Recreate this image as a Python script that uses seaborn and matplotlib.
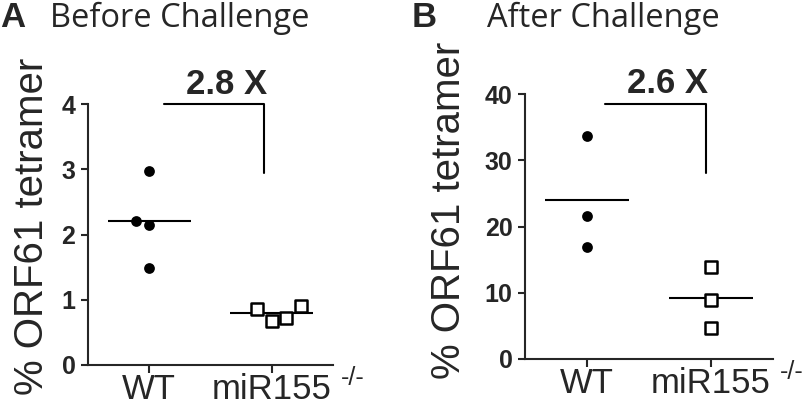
import numpy as np
import pandas as pd
import matplotlib
matplotlib.use("Agg")
import matplotlib.pyplot as plt
import seaborn as sns

# values (% ORF61 tetramer)
groups = ["WT", "miR155"]
before_wt = [2.97, 2.21, 2.15, 1.49]
before_ko = [0.86, 0.68, 0.72, 0.90]
after_wt = [33.6, 21.6, 16.9]
after_ko = [13.9, 8.9, 4.7]

# small horizontal spread of the points, as in the original scatter
before_wt_dx = [0.0, -0.11, 0.0, 0.0]
before_ko_dx = [-0.12, 0.0, 0.12, 0.24]
after_wt_dx = [0.0, 0.0, 0.0]
after_ko_dx = [0.0, 0.0, 0.0]

fold_labels = ["2.8 X", "2.6 X"]
panel_letters = ["A", "B"]
panel_titles = ["Before Challenge", "After Challenge"]

sns.set_style("ticks")
plt.rcParams["font.family"] = ["Liberation Sans", "DejaVu Sans"]
plt.rcParams["axes.linewidth"] = 1.5
plt.rcParams["xtick.major.width"] = 1.5
plt.rcParams["ytick.major.width"] = 1.5


def make_df(wt, ko, wt_dx, ko_dx):
    df = pd.DataFrame({
        "group": [groups[0]] * len(wt) + [groups[1]] * len(ko),
        "value": wt + ko,
        "dx": wt_dx + ko_dx,
    })
    df["pos"] = df["group"].map({g: i for i, g in enumerate(groups)}) + df["dx"]
    return df


def draw_panel(ax, df, ymax, yticks, bracket, fold_text):
    wt = df[df["group"] == groups[0]]
    ko = df[df["group"] == groups[1]]
    sns.scatterplot(data=wt, x="pos", y="value", ax=ax, marker="o", s=60,
                    color="black", edgecolor="black", linewidth=0, zorder=3)
    sns.scatterplot(data=ko, x="pos", y="value", ax=ax, marker="s", s=66,
                    facecolor="white", edgecolor="black", linewidth=1.8, zorder=3)
    # mean lines
    for i, g in enumerate(groups):
        m = df.loc[df["group"] == g, "value"].mean()
        ax.hlines(m, i - 0.34, i + 0.34, color="black", lw=1.5, zorder=2)

    ax.set_xlim(-0.5, 1.5)
    ax.set_ylim(0, ymax)
    ax.set_yticks(yticks)
    ax.set_yticklabels([str(t) for t in yticks], fontsize=18, fontweight="bold")
    ax.set_xticks([0, 1])
    ax.set_xticklabels(["WT", "miR155"], fontsize=25)
    ax.tick_params(axis="y", length=5, pad=4)
    ax.tick_params(axis="x", length=6, pad=0)
    ax.set_xlabel("")
    ax.set_ylabel("% ORF61 tetramer", fontsize=29)
    sns.despine(ax=ax)

    # superscript of the knockout label
    ax.annotate("-/-", xy=(1, 0), xycoords=("data", "axes fraction"),
                xytext=(69, -1), textcoords="offset pixels",
                fontsize=18, ha="left", va="top", annotation_clip=False)

    # fold-change bracket
    x0, x1, ytop, ybot = bracket
    ax.plot([x0, x1, x1], [ytop, ytop, ybot], color="black", lw=1.5,
            clip_on=False, zorder=2)
    ax.text((x0 + x1) / 2 + 0.1, ytop + ymax * 0.04, fold_text, fontsize=25,
            fontweight="bold", ha="center", va="baseline", clip_on=False)


fig = plt.figure(figsize=(8.1, 4.09), dpi=100)
ax_a = fig.add_axes([88 / 810, 44 / 409, 245 / 810, 261 / 409])
ax_b = fig.add_axes([525 / 810, 50 / 409, 248 / 810, 265 / 409])

draw_panel(ax_a, make_df(before_wt, before_ko, before_wt_dx, before_ko_dx),
           4, [0, 1, 2, 3, 4], (0.12, 0.935, 4.0, 2.95), fold_labels[0])
draw_panel(ax_b, make_df(after_wt, after_ko, after_wt_dx, after_ko_dx),
           40, [0, 10, 20, 30, 40], (0.145, 0.96, 38.5, 28.1), fold_labels[1])

ax_a.yaxis.set_label_coords(-0.15, 0.53)
ax_b.yaxis.set_label_coords(-0.23, 0.56)

# panel headings
fig.text(0 / 810, 1 - 27 / 409, panel_letters[0], fontsize=25, fontweight="bold",
         ha="left", va="baseline")
fig.text(50 / 810, 1 - 27 / 409, panel_titles[0], fontsize=23.5, family="Open Sans",
         ha="left", va="baseline")
fig.text(412 / 810, 1 - 27 / 409, panel_letters[1], fontsize=25, fontweight="bold",
         ha="left", va="baseline")
fig.text(487 / 810, 1 - 27 / 409, panel_titles[1], fontsize=23.5, family="Open Sans",
         ha="left", va="baseline")

fig.savefig("out.png", dpi=100)
